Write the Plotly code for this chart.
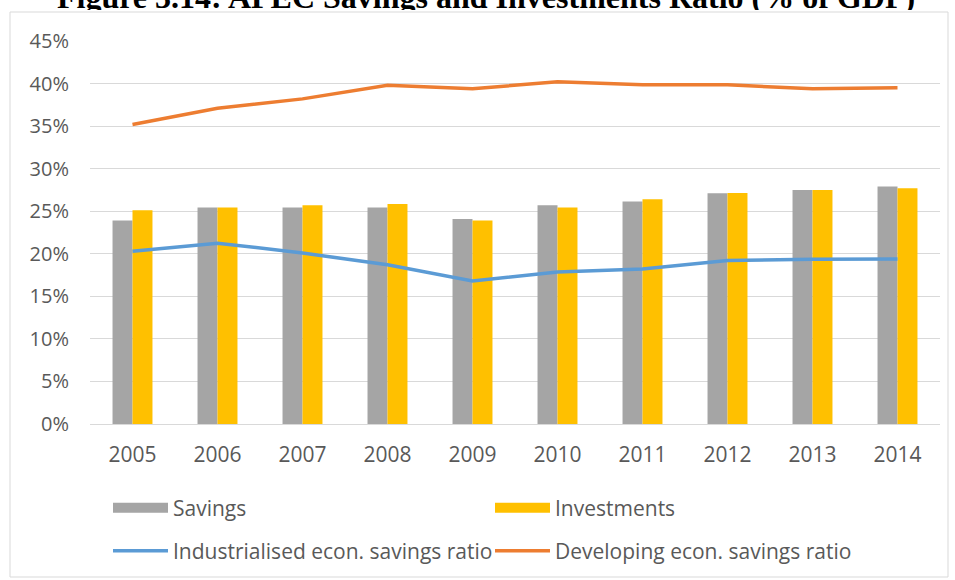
import plotly.graph_objects as go

years = ["2005", "2006", "2007", "2008", "2009", "2010", "2011", "2012", "2013", "2014"]
savings = [0.239, 0.2545, 0.2545, 0.2545, 0.241, 0.257, 0.2615, 0.271, 0.275, 0.279]
investments = [0.251, 0.2545, 0.257, 0.2585, 0.239, 0.2545, 0.264, 0.2715, 0.275, 0.277]
industrialised = [0.203, 0.2125, 0.201, 0.187, 0.168, 0.1785, 0.182, 0.192, 0.1935, 0.194]
developing = [0.352, 0.371, 0.382, 0.398, 0.394, 0.402, 0.3985, 0.3985, 0.394, 0.395]
yticks = [0, 0.05, 0.10, 0.15, 0.20, 0.25, 0.30, 0.35, 0.40, 0.45]
ytick_labels = ["0%", "5%", "10%", "15%", "20%", "25%", "30%", "35%", "40%", "45%"]
title_text = "Figure 3.14: APEC Savings and Investments Ratio (% of GDP)"

GRAY = "#A5A5A5"
GOLD = "#FFC000"
BLUE = "#5B9BD5"
ORANGE = "#ED7D31"
TXT = "#595959"
FONT = "Open Sans"

W, H = 955, 580
ML, MR, MT, MB = 90, 15, 41, 156
PW, PH = W - ML - MR, H - MT - MB

def px_x(p):
    return (p - ML) / PW

def px_y(p):
    return (H - MB - p) / PH

fig = go.Figure()
fig.add_trace(go.Bar(x=years, y=savings, name="Savings", marker_color=GRAY,
                     marker_line_width=0, showlegend=False))
fig.add_trace(go.Bar(x=years, y=investments, name="Investments", marker_color=GOLD,
                     marker_line_width=0, showlegend=False))
# legend-only entries (wide swatches like the original)
fig.add_trace(go.Scatter(x=[None], y=[None], mode="lines", name="Savings",
                         line=dict(color=GRAY, width=11), legend="legend"))
fig.add_trace(go.Scatter(x=[None], y=[None], mode="lines", name="Investments",
                         line=dict(color=GOLD, width=11), legend="legend"))
fig.add_trace(go.Scatter(x=years, y=industrialised, mode="lines",
                         name="Industrialised econ. savings ratio",
                         line=dict(color=BLUE, width=3.5), legend="legend2"))
fig.add_trace(go.Scatter(x=years, y=developing, mode="lines",
                         name="Developing econ. savings ratio",
                         line=dict(color=ORANGE, width=3.5), legend="legend2"))

leg_common = dict(orientation="h", x=px_x(108), xanchor="left", yanchor="middle",
                  yref="paper", entrywidth=312, entrywidthmode="pixels", itemwidth=55,
                  font=dict(size=21, color=TXT, family=FONT), traceorder="normal",
                  bgcolor="rgba(0,0,0,0)")

fig.update_layout(
    width=W, height=H,
    margin=dict(l=ML, r=MR, t=MT, b=MB, autoexpand=False),
    paper_bgcolor="white", plot_bgcolor="white",
    barmode="group", bargap=0.53, bargroupgap=0,
    font=dict(family=FONT, color=TXT),
    legend=dict(leg_common, y=px_y(508)),
    legend2=dict(leg_common, y=px_y(551)),
    xaxis=dict(showgrid=False, showline=True, linecolor="#D9D9D9", linewidth=1,
               ticks="", tickfont=dict(size=21, color=TXT), ticklabelstandoff=12),
    yaxis=dict(range=[0, 0.45], tickvals=yticks, ticktext=ytick_labels,
               showgrid=True, gridcolor="#D9D9D9", gridwidth=1, zeroline=False,
               showline=False, ticks="", tickfont=dict(size=20, color=TXT),
               ticklabelstandoff=20),
    shapes=[dict(type="rect", xref="paper", yref="paper", layer="below",
                 x0=px_x(10), x1=px_x(948), y0=px_y(577), y1=px_y(12),
                 line=dict(color="#D9D9D9", width=1), fillcolor="white")],
    annotations=[dict(text="<b>" + title_text + "</b>", xref="paper", yref="paper",
                      x=px_x(486), y=px_y(12), xanchor="center", yanchor="bottom",
                      height=27, valign="middle", showarrow=False,
                      font=dict(family="Liberation Serif", size=32, color="black"))],
)

fig.write_html("out.html")
